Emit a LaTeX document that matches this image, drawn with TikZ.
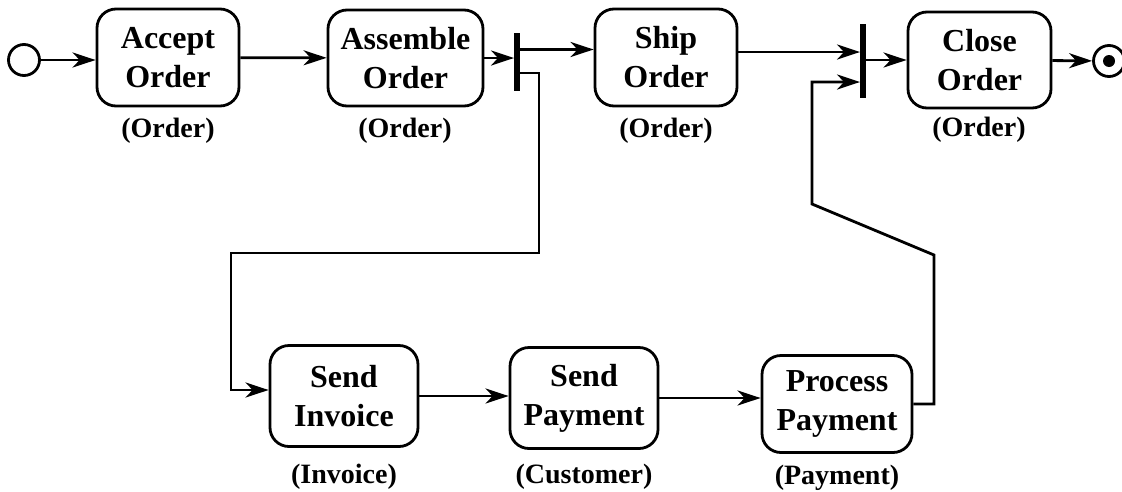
\documentclass[tikz,border=0pt]{standalone}
\usepackage{fontspec}
\setmainfont{Liberation Serif}
\usetikzlibrary{arrows.meta}

\begin{document}
\begin{tikzpicture}[
    x=1pt, y=-1pt,
    box/.style={draw, line width=2.8pt, rounded corners=19pt, align=center, inner sep=0pt,
      font=\fontsize{32}{39}\selectfont\bfseries},
    objlabel/.style={font=\fontsize{28}{34}\selectfont\bfseries},
    bar/.style={fill=black, minimum width=5.5pt, inner sep=0pt},
    startst/.style={draw, circle, line width=2.8pt, minimum size=31pt, inner sep=0pt},
    arrow/.style={-{Stealth[length=23pt, width=15pt, inset=7pt]}, line width=2.8pt},
    line/.style={line width=2.8pt}
  ]
  \useasboundingbox (0,0) rectangle (1122,491);

  % Order flow along the top
  \node[startst] (start) at (24,60) {};
  \node[box, minimum width=142pt, minimum height=97pt] (accept) at (168,57.5) {Accept\\Order};
  \node[box, minimum width=155pt, minimum height=96pt] (assemble) at (405.5,58) {Assemble\\Order};
  \node[bar, minimum height=58pt] (fork) at (517,62) {};
  \node[box, minimum width=142pt, minimum height=97pt] (ship) at (666,57.5) {Ship\\Order};
  \node[bar, minimum height=74pt] (join) at (863,61) {};
  \node[box, minimum width=143pt, minimum height=96pt] (close) at (979.5,60) {Close\\Order};
  \node[startst] (end) at (1109,61) {};
  \fill (end.center) circle (6pt);

  % Invoice and payment flow along the bottom
  \node[box, minimum width=148pt, minimum height=101pt] (invoice) at (344,396) {Send\\Invoice};
  \node[box, minimum width=148pt, minimum height=101pt] (payment) at (584,398) {Send\\Payment};
  \node[box, minimum width=150pt, minimum height=97pt] (process) at (837,404) {Process\\Payment};

  % Object labels
  \node[objlabel] (accobj) at (168,131) {(Order)};
  \node[objlabel] (assobj) at (405,131) {(Order)};
  \node[objlabel] (shipobj) at (666,131) {(Order)};
  \node[objlabel] (closeobj) at (979,130) {(Order)};
  \node[objlabel] (invobj) at (344,477) {(Invoice)};
  \node[objlabel] (payobj) at (584,477) {(Customer)};
  \node[objlabel] (procobj) at (837,478) {(Payment)};

  % Bend points
  \coordinate (down1) at (539,253);
  \coordinate (left1) at (231,253);
  \coordinate (up1) at (934,255);
  \coordinate (up2) at (812,204);

  % Connectors
  \draw[arrow] (start.east) -- (start.east -| accept.west);
  \draw[arrow] (accept) -- (assemble);
  \draw[arrow] (assemble.east) -- (assemble.east -| fork.west);
  \draw[arrow] ([yshift=8pt]ship.west -| fork.east) -- ([yshift=8pt]ship.west);
  \draw[arrow] ([yshift=-11pt]fork.east) -| (down1) -- (left1) |- ([yshift=6pt]invoice.west);
  \draw[arrow] ([yshift=5.5pt]ship.east) -- ([yshift=5.5pt]ship.east -| join.west);
  \draw[arrow] (close.west -| join.east) -- (close.west);
  \draw[arrow] (close) -- (end);
  \draw[arrow] (invoice.east) -- (invoice.east -| payment.west);
  \draw[arrow] (payment.east) -- (payment.east -| process.west);
  \draw[arrow] (process.east) -| (up1) -- (up2) |- ([yshift=-21pt]join.west);

\end{tikzpicture}
\end{document}
